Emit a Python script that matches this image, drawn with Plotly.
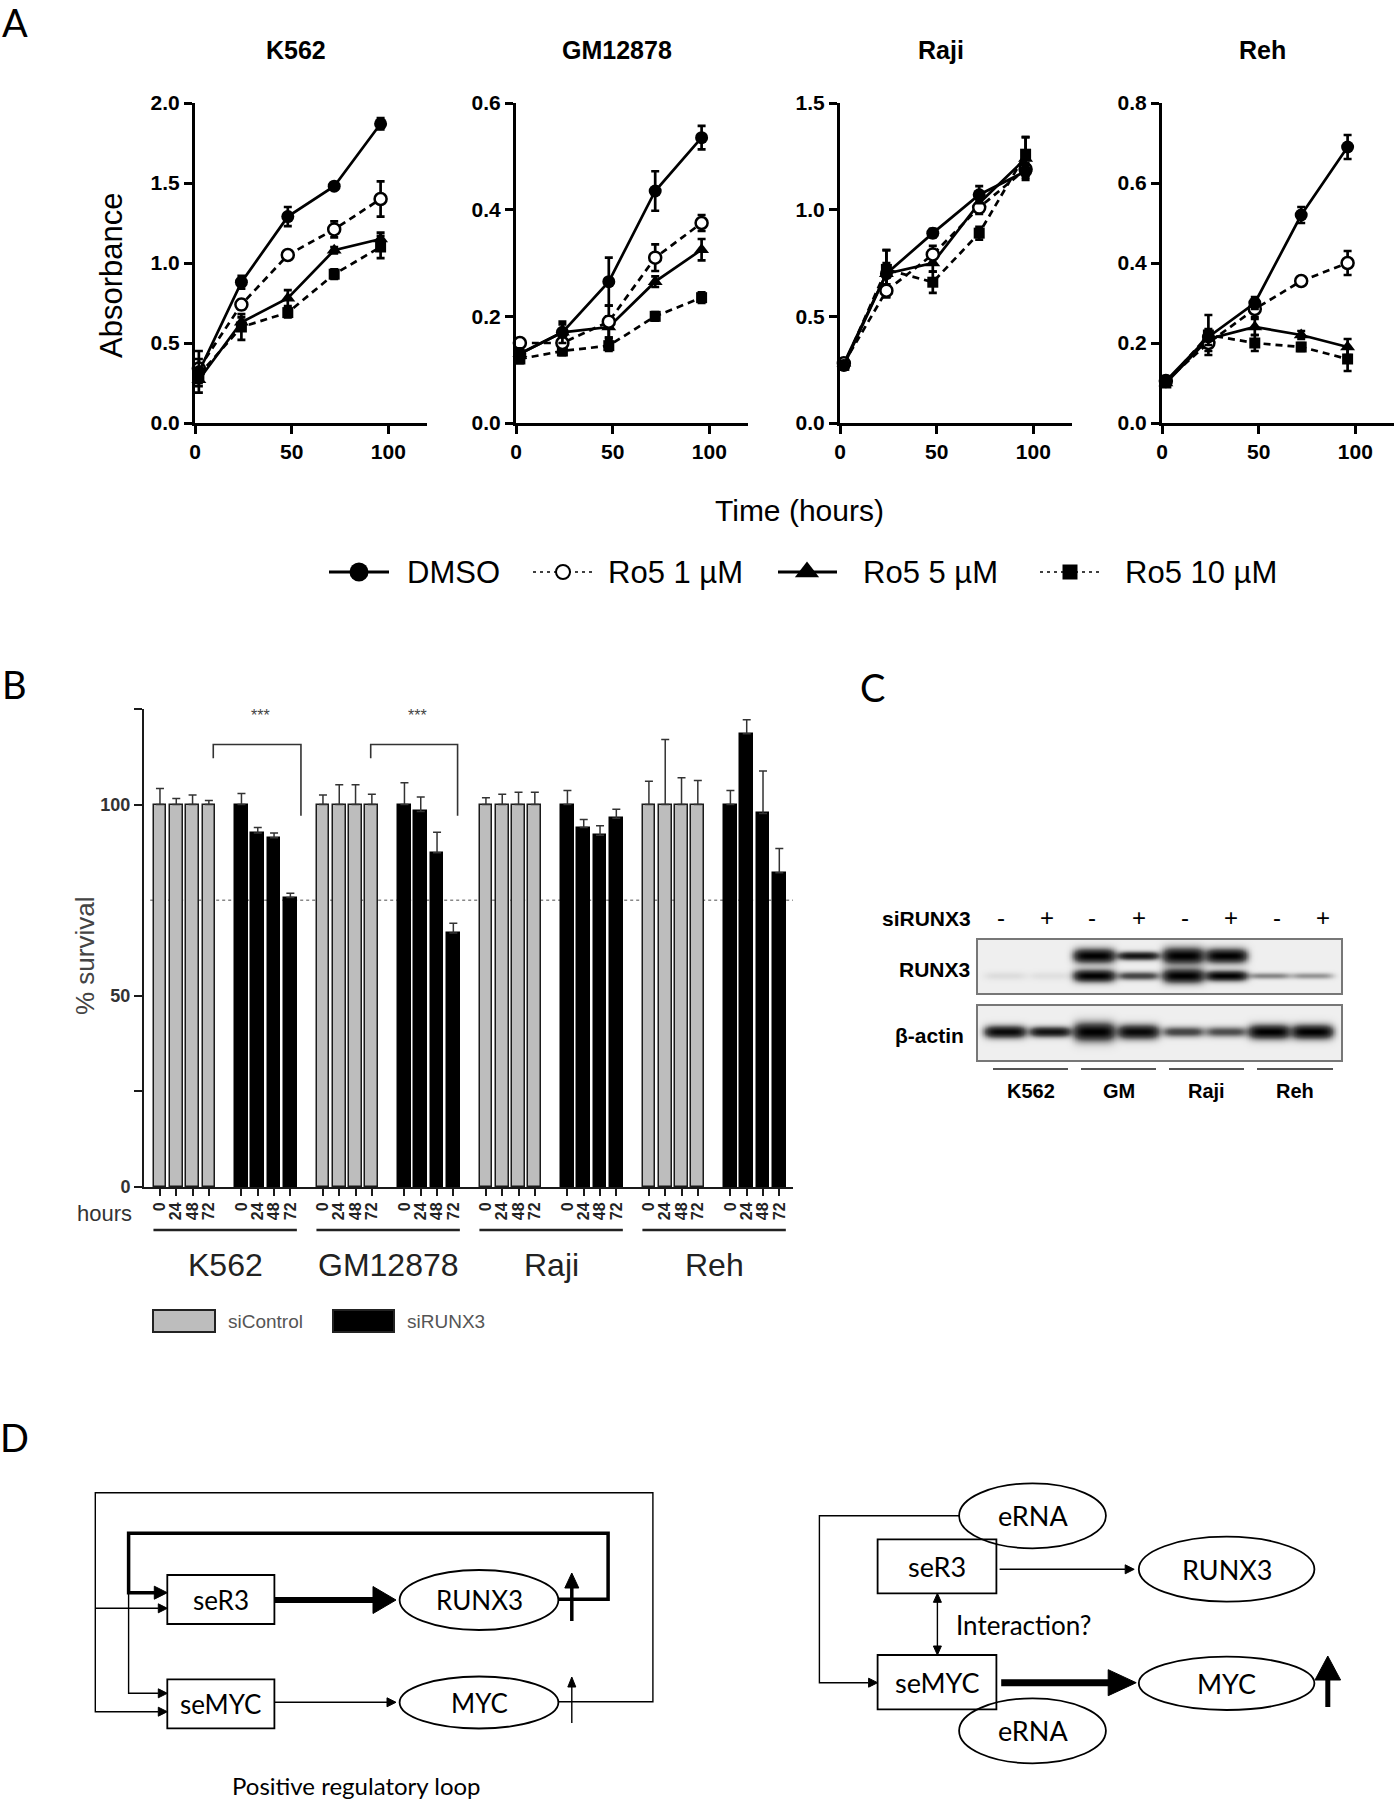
import numpy as np
import plotly.graph_objects as go

W, H = 1397, 1800
FONT = "Liberation Sans"
DFONT = "Lato"

# ================= Panel A data =================
time_h = [2, 24, 48, 72, 96]
a_lines = ["K562", "GM12878", "Raji", "Reh"]
a_treatments = ["DMSO", "Ro5 1 µM", "Ro5 5 µM", "Ro5 10 µM"]
a_ymax = [2.0, 0.6, 1.5, 0.8]
a_yticks = [[0, 0.5, 1.0, 1.5, 2.0], [0, 0.2, 0.4, 0.6], [0, 0.5, 1.0, 1.5], [0, 0.2, 0.4, 0.6, 0.8]]
a_xticks = [0, 50, 100]

k562_dmso = [0.32, 0.88, 1.29, 1.48, 1.87]
k562_dmso_err = [0.13, 0.04, 0.06, 0.02, 0.035]
k562_ro1 = [0.34, 0.74, 1.05, 1.21, 1.40]
k562_ro1_err = [0.06, 0.03, 0.02, 0.05, 0.11]
k562_ro5 = [0.27, 0.63, 0.78, 1.08, 1.15]
k562_ro5_err = [0.04, 0.03, 0.05, 0.02, 0.04]
k562_ro10 = [0.30, 0.60, 0.69, 0.93, 1.10]
k562_ro10_err = [0.05, 0.08, 0.03, 0.03, 0.07]

gm_dmso = [0.13, 0.17, 0.265, 0.435, 0.535]
gm_dmso_err = [0.01, 0.02, 0.045, 0.037, 0.022]
gm_ro1 = [0.15, 0.15, 0.19, 0.31, 0.375]
gm_ro1_err = [0.008, 0.01, 0.03, 0.025, 0.015]
gm_ro5 = [0.13, 0.17, 0.18, 0.265, 0.325]
gm_ro5_err = [0.008, 0.015, 0.02, 0.01, 0.02]
gm_ro10 = [0.12, 0.135, 0.145, 0.20, 0.235]
gm_ro10_err = [0.008, 0.008, 0.01, 0.008, 0.01]

raji_dmso = [0.27, 0.70, 0.89, 1.07, 1.18]
raji_dmso_err = [0.02, 0.05, 0.02, 0.04, 0.03]
raji_ro1 = [0.28, 0.62, 0.79, 1.01, 1.19]
raji_ro1_err = [0.02, 0.03, 0.04, 0.03, 0.03]
raji_ro5 = [0.28, 0.70, 0.75, 1.03, 1.24]
raji_ro5_err = [0.02, 0.11, 0.04, 0.03, 0.10]
raji_ro10 = [0.27, 0.72, 0.66, 0.89, 1.26]
raji_ro10_err = [0.02, 0.09, 0.05, 0.03, 0.08]

reh_dmso = [0.105, 0.215, 0.30, 0.52, 0.69]
reh_dmso_err = [0.008, 0.02, 0.015, 0.02, 0.03]
reh_ro1 = [0.105, 0.20, 0.285, 0.355, 0.40]
reh_ro1_err = [0.008, 0.02, 0.02, 0.01, 0.03]
reh_ro5 = [0.10, 0.21, 0.24, 0.22, 0.19]
reh_ro5_err = [0.008, 0.02, 0.02, 0.01, 0.02]
reh_ro10 = [0.10, 0.22, 0.20, 0.19, 0.16]
reh_ro10_err = [0.008, 0.05, 0.02, 0.01, 0.03]

# ================= Panel B data =================
b_lines = ["K562", "GM12878", "Raji", "Reh"]
b_hours = ["0", "24", "48", "72"]
sictrl_k562 = [100, 100, 100, 100]
sictrl_k562_err = [4.2, 1.6, 2.5, 1.1]
sictrl_gm = [100, 100, 100, 100]
sictrl_gm_err = [2.5, 5.2, 5.2, 2.7]
sictrl_raji = [100, 100, 100, 100]
sictrl_raji_err = [1.8, 2.7, 3.2, 3.2]
sictrl_reh = [100, 100, 100, 100]
sictrl_reh_err = [6.1, 17.0, 7.0, 6.3]
sirunx3_k562 = [100, 92.6, 91.3, 75.7]
sirunx3_k562_err = [2.9, 1.4, 1.3, 1.1]
sirunx3_gm = [100, 98.2, 87.4, 66.4]
sirunx3_gm_err = [5.7, 3.8, 5.4, 2.6]
sirunx3_raji = [100, 94.0, 92.0, 96.4]
sirunx3_raji_err = [3.7, 2.1, 2.5, 2.4]
sirunx3_reh = [100, 118.5, 97.7, 82.2]
sirunx3_reh_err = [3.7, 3.7, 11.1, 6.3]
b_threshold = 75
b_yticks = [0, 25, 50, 100, 125]
b_yticktext = ["0", "", "50", "100", ""]

# ================= Panel C data (band intensities read from blot) =================
c_groups = ["K562", "GM", "Raji", "Reh"]
c_signs = ["-", "+", "-", "+", "-", "+", "-", "+"]
runx3_upper = [0.0, 0.0, 1.0, 0.9, 1.0, 1.0, 0.0, 0.0]
runx3_upper_thick = [5, 5, 7, 4, 8, 7, 4, 4]
runx3_lower = [0.06, 0.05, 1.0, 0.6, 1.0, 1.0, 0.35, 0.3]
runx3_lower_thick = [4, 4, 6, 4, 7, 5, 3, 3]
actin = [0.95, 0.9, 1.0, 0.95, 0.6, 0.55, 1.0, 1.0]
actin_thick = [6, 5, 9, 7, 5, 5, 7, 7]

# ================= layout geometry (pixels) =================
A_X = [(195, 427), (516, 748), (840, 1072), (1162, 1394)]
A_Y = (103, 423)
A_XMAX = 120
B_X = (144, 793)
B_Y = (709, 1187)
B_XR = (-0.98, 38.84)
lane_x = [1005, 1050, 1094, 1138, 1183, 1226, 1269, 1312]
sign_x = [1001, 1047, 1092, 1139, 1185, 1231, 1277, 1323]


def xdom(a, b):
    return [a / W, b / W]


def ydom(a, b):
    return [1 - b / H, 1 - a / H]


fig = go.Figure()
annotations = []
shapes = []


def text(x, y, s, size, family=FONT, bold=False, color="black", xanchor="center", angle=0,
         xref="x", yref="y"):
    annotations.append(dict(x=x, y=y, xref=xref, yref=yref, text=s, showarrow=False,
                            xanchor=xanchor, yanchor="middle", textangle=angle,
                            font=dict(family=family, size=size, color=color,
                                      weight="bold" if bold else "normal")))


# ---------------- Panel A ----------------
a_data = [
    [(k562_dmso, k562_dmso_err), (k562_ro1, k562_ro1_err), (k562_ro5, k562_ro5_err), (k562_ro10, k562_ro10_err)],
    [(gm_dmso, gm_dmso_err), (gm_ro1, gm_ro1_err), (gm_ro5, gm_ro5_err), (gm_ro10, gm_ro10_err)],
    [(raji_dmso, raji_dmso_err), (raji_ro1, raji_ro1_err), (raji_ro5, raji_ro5_err), (raji_ro10, raji_ro10_err)],
    [(reh_dmso, reh_dmso_err), (reh_ro1, reh_ro1_err), (reh_ro5, reh_ro5_err), (reh_ro10, reh_ro10_err)],
]
styles = [
    dict(symbol="circle", fill="black", dash="solid", size=13),
    dict(symbol="circle", fill="white", dash="dash", size=12),
    dict(symbol="triangle-up", fill="black", dash="solid", size=13),
    dict(symbol="square", fill="black", dash="dash", size=11),
]
draw_order = [3, 2, 1, 0]

for p in range(4):
    ax = str(p + 2)
    for t in draw_order:
        vals, err = a_data[p][t]
        st = styles[t]
        fig.add_trace(go.Scatter(
            x=time_h, y=vals, xaxis="x" + ax, yaxis="y" + ax, mode="lines+markers",
            name=a_treatments[t], showlegend=False, cliponaxis=False,
            line=dict(color="black", width=2.7, dash="7px,5px" if st["dash"] == "dash" else "solid"),
            marker=dict(symbol=st["symbol"], size=st["size"], color=st["fill"],
                        line=dict(color="black", width=2.5 if st["fill"] == "white" else 0)),
            error_y=dict(type="data", array=err, visible=True, color="black", thickness=2.7, width=4),
        ))
    x0, x1 = A_X[p]
    fig.update_layout(**{
        "xaxis" + ax: dict(domain=xdom(x0, x1), range=[0, A_XMAX], anchor="y" + ax, automargin=False,
                           showline=True, linecolor="black", linewidth=3, ticks="outside",
                           ticklen=8, tickwidth=3, tickcolor="black", tickvals=a_xticks,
                           showgrid=False, zeroline=False, fixedrange=True,
                           tickfont=dict(family=FONT, size=21, color="black", weight="bold")),
        "yaxis" + ax: dict(domain=ydom(*A_Y), range=[0, a_ymax[p]], anchor="x" + ax, automargin=False,
                           showline=True, linecolor="black", linewidth=3, ticks="outside",
                           ticklen=8, tickwidth=3, tickcolor="black", tickvals=a_yticks[p],
                           tickformat=".1f", showgrid=False, zeroline=False, fixedrange=True,
                           tickfont=dict(family=FONT, size=21, color="black", weight="bold")),
    })
    text(x0 + 52 / A_XMAX * (x1 - x0), 50, a_lines[p], 25, bold=True)

text(15, 22, "A", 38, family=DFONT)
text(111, 276, "Absorbance", 31, angle=-90)
text(799, 510, "Time (hours)", 30)

# legend for panel A (drawn on canvas)
leg_line = [(329, 389), (533, 593), (778, 837), (1040, 1100)]
leg_mark = [359, 563, 807, 1070]
leg_text = [405, 606, 861, 1123]
leg_size = [19, 14, 21, 15]
LEG_Y = 572
for t in range(4):
    st = styles[t]
    dashed = st["dash"] == "dash"
    fig.add_trace(go.Scatter(x=list(leg_line[t]), y=[LEG_Y, LEG_Y], mode="lines", showlegend=False,
                             hoverinfo="skip", xaxis="x", yaxis="y",
                             line=dict(color="black", width=1.5 if dashed else 3,
                                       dash="3px,4px" if dashed else "solid")))
    fig.add_trace(go.Scatter(x=[leg_mark[t]], y=[LEG_Y], mode="markers", showlegend=False,
                             hoverinfo="skip", xaxis="x", yaxis="y",
                             marker=dict(symbol=st["symbol"], size=leg_size[t], color=st["fill"],
                                         line=dict(color="black", width=2 if st["fill"] == "white" else 0))))
    text(leg_text[t], LEG_Y, a_treatments[t], 31, xanchor="left")

# ---------------- Panel B ----------------
ctrl_vals = [sictrl_k562, sictrl_gm, sictrl_raji, sictrl_reh]
ctrl_errs = [sictrl_k562_err, sictrl_gm_err, sictrl_raji_err, sictrl_reh_err]
si_vals = [sirunx3_k562, sirunx3_gm, sirunx3_raji, sirunx3_reh]
si_errs = [sirunx3_k562_err, sirunx3_gm_err, sirunx3_raji_err, sirunx3_reh_err]

ctrl_x, si_x, cy, ce, sy, se = [], [], [], [], [], []
for c in range(4):
    for i in range(4):
        ctrl_x.append(10 * c + i)
        si_x.append(10 * c + 5 + i)
    cy += ctrl_vals[c]
    ce += ctrl_errs[c]
    sy += si_vals[c]
    se += si_errs[c]

fig.add_trace(go.Bar(x=ctrl_x, y=cy, width=0.78, xaxis="x6", yaxis="y6", name="siControl",
                     showlegend=False, marker=dict(color="#bdbdbd", line=dict(color="#1a1a1a", width=1.5)),
                     error_y=dict(type="data", symmetric=False, array=ce, arrayminus=[0] * len(ce),
                                  color="#333333", thickness=1.5, width=4)))
fig.add_trace(go.Bar(x=si_x, y=sy, width=0.78, xaxis="x6", yaxis="y6", name="siRUNX3",
                     showlegend=False, marker=dict(color="black", line=dict(color="black", width=1.5)),
                     error_y=dict(type="data", symmetric=False, array=se, arrayminus=[0] * len(se),
                                  color="#333333", thickness=1.5, width=4)))

all_x = sorted(ctrl_x + si_x)
fig.update_layout(
    xaxis6=dict(domain=xdom(*B_X), range=list(B_XR), anchor="y6", showline=True, linecolor="#1a1a1a",
                linewidth=2, ticks="outside", ticklen=7, tickwidth=1.5, tickcolor="#1a1a1a",
                tickvals=all_x, ticktext=b_hours * 8, tickangle=-90, showgrid=False, zeroline=False,
                fixedrange=True, automargin=False,
                tickfont=dict(family=FONT, size=16, color="#222", weight="bold")),
    yaxis6=dict(domain=ydom(*B_Y), range=[0, 125], anchor="x6", showline=True, linecolor="#1a1a1a",
                linewidth=2, ticks="outside", ticklen=8, tickwidth=2, tickcolor="#1a1a1a",
                tickvals=b_yticks, ticktext=b_yticktext, showgrid=False, zeroline=False,
                fixedrange=True, automargin=False,
                tickfont=dict(family=FONT, size=18, color="#333", weight="bold")),
    bargap=0,
)

shapes.append(dict(type="line", xref="x6", yref="y6", x0=-0.6, x1=B_XR[1], y0=b_threshold, y1=b_threshold,
                   line=dict(color="#888888", width=1.5, dash="dot"), layer="below"))
for (l, r) in [(3.27, 8.65), (12.93, 18.26)]:
    shapes.append(dict(type="path", xref="x6", yref="y6",
                       path=f"M {l},112.1 L {l},115.7 L {r},115.7 L {r},97.1",
                       line=dict(color="#333333", width=1.6)))
    text((l + r) / 2 + 0.2, 123.4, "***", 16, color="#444", xref="x6", yref="y6")

text(14, 684, "B", 38, family=DFONT)
text(85, 956, "% survival", 26, color="#444", angle=-90)
text(134, 1213, "hours", 22, color="#333", xanchor="right")
for c in range(4):
    shapes.append(dict(type="line", xref="x6", yref="y", x0=10 * c - 0.4, x1=10 * c + 8.4,
                       y0=1230, y1=1230, line=dict(color="#222", width=2.5)))
    text(10 * c + 4, 1265, b_lines[c], 32, color="#222", xref="x6")

shapes.append(dict(type="rect", xref="x", yref="y", x0=153, x1=215, y0=1310, y1=1332,
                   fillcolor="#bdbdbd", line=dict(color="#222", width=2)))
text(226, 1321, "siControl", 19, color="#555", xanchor="left")
shapes.append(dict(type="rect", xref="x", yref="y", x0=333, x1=394, y0=1310, y1=1332,
                   fillcolor="black", line=dict(color="#222", width=2)))
text(405, 1321, "siRUNX3", 19, color="#555", xanchor="left")

# ---------------- Panel C (western blot) ----------------
text(872, 687, "C", 38, family=DFONT)
text(973, 918, "siRUNX3", 21, bold=True, xanchor="right")
for i in range(8):
    text(sign_x[i], 917, c_signs[i], 24)
text(972, 969, "RUNX3", 21, bold=True, xanchor="right")
text(966, 1035, "β-actin", 21, bold=True, xanchor="right")


def blot(y0, y1, bands):
    xs = np.arange(978, 1342, 1.5)
    ys = np.arange(y0, y1 + 0.5, 1.0)
    X, Y = np.meshgrid(xs, ys)
    keep = np.ones_like(X)
    for (cy_, ints, thick) in bands:
        for i in range(8):
            if ints[i] <= 0:
                continue
            v = ints[i] * np.exp(-np.abs((X - lane_x[i]) / 21.0) ** 5) * np.exp(-((Y - cy_) / thick[i]) ** 2)
            keep *= (1 - np.clip(v, 0, 1))
    z = 1 - keep
    fig.add_trace(go.Heatmap(x=xs, y=ys, z=z, xaxis="x", yaxis="y", zmin=0, zmax=1, showscale=False,
                             hoverinfo="skip", zsmooth="best",
                             colorscale=[[0, "#efefef"], [0.5, "#555555"], [1, "#000000"]]))
    shapes.append(dict(type="rect", xref="x", yref="y", x0=977, x1=1342, y0=y0, y1=y1,
                       line=dict(color="#777777", width=2)))


blot(939, 994, [(955, runx3_upper, runx3_upper_thick), (975, runx3_lower, runx3_lower_thick)])
blot(1005, 1061, [(1031, actin, actin_thick)])

c_lines = [(993, 1068), (1081, 1156), (1169, 1244), (1257, 1333)]
for g in range(4):
    a, b = c_lines[g]
    shapes.append(dict(type="line", xref="x", yref="y", x0=a, x1=b, y0=1069, y1=1069,
                       line=dict(color="#555555", width=2)))
    text((a + b) / 2, 1091, c_groups[g], 20, bold=True)

# ---------------- Panel D (diagrams) ----------------
text(14, 1437, "D", 38, family=DFONT)


def seg(pts, w=1.4):
    d = "M " + " L ".join(f"{x},{y}" for x, y in pts)
    shapes.append(dict(type="path", path=d, xref="x", yref="y", line=dict(color="black", width=w)))


def tri(tip, direction, length, half):
    x, y = tip
    dx, dy = direction
    bx, by = x - dx * length, y - dy * length
    px, py = -dy, dx
    d = f"M {x},{y} L {bx + px * half},{by + py * half} L {bx - px * half},{by - py * half} Z"
    shapes.append(dict(type="path", path=d, xref="x", yref="y", fillcolor="black",
                       line=dict(color="black", width=1)))


def box(x0, y0, x1, y1):
    shapes.append(dict(type="rect", xref="x", yref="y", x0=x0, x1=x1, y0=y0, y1=y1,
                       line=dict(color="black", width=1.8)))


def ell(cx, cy_, rx, ry):
    shapes.append(dict(type="circle", xref="x", yref="y", x0=cx - rx, x1=cx + rx, y0=cy_ - ry,
                       y1=cy_ + ry, line=dict(color="black", width=1.8)))


# left diagram
box(167.3, 1575, 274.4, 1624)
box(167.3, 1679.3, 274.4, 1728.3)
ell(479, 1600, 79.4, 30)
ell(479, 1702.5, 79.4, 26)
seg([(558.4, 1701.7), (652.9, 1701.7), (652.9, 1492.7), (95.3, 1492.7), (95.3, 1711.7), (158, 1711.7)])
tri((167.3, 1711.7), (1, 0), 9, 4.5)
seg([(95.3, 1608.3), (158, 1608.3)])
tri((167.3, 1608.3), (1, 0), 9, 4.5)
seg([(558.4, 1599.3), (608.1, 1599.3), (608.1, 1533.3), (128.6, 1533.3), (128.6, 1592.7), (155, 1592.7)], w=3.5)
tri((167.3, 1592.7), (1, 0), 13, 6.5)
seg([(128.6, 1592.7), (128.6, 1693.3), (158, 1693.3)])
tri((167.3, 1693.3), (1, 0), 9, 4.5)
seg([(274.4, 1600), (374, 1600)], w=6)
tri((396, 1600), (1, 0), 23, 13.5)
seg([(274.4, 1702.3), (387, 1702.3)])
tri((396, 1702.3), (1, 0), 9, 4.5)
seg([(571.8, 1621), (571.8, 1586)], w=3.5)
tri((571.8, 1573), (0, -1), 15, 7)
seg([(571.8, 1723), (571.8, 1686)])
tri((571.8, 1677), (0, -1), 10, 4)
text(220.8, 1599.5, "seR3", 26, family=DFONT)
text(220.8, 1703.8, "seMYC", 26, family=DFONT)
text(479, 1600, "RUNX3", 26, family=DFONT)
text(479, 1702.5, "MYC", 26, family=DFONT)
text(356, 1785, "Positive regulatory loop", 24, family=DFONT)

# right diagram
ell(1032.5, 1515.8, 73.4, 32.5)
box(877.6, 1539.3, 996.4, 1593.3)
ell(1226.6, 1569.2, 87.8, 32.5)
seg([(999.6, 1569.3), (1125, 1569.3)])
tri((1134.2, 1569.3), (1, 0), 9, 4.5)
seg([(959.1, 1515.8), (819.4, 1515.8), (819.4, 1682.7), (868, 1682.7)])
tri((877.6, 1682.7), (1, 0), 9, 4.5)
seg([(937.4, 1602), (937.4, 1646)])
tri((937.4, 1593.3), (0, -1), 9, 4)
tri((937.4, 1655), (0, 1), 9, 4)
box(877.6, 1655, 996.4, 1709.3)
ell(1226.6, 1683.3, 87.8, 26.7)
ell(1032.5, 1730.8, 73.4, 32.5)
seg([(1001.2, 1682.7), (1110, 1682.7)], w=7)
tri((1136.2, 1682.7), (1, 0), 28, 13)
seg([(1327.8, 1707), (1327.8, 1678)], w=5)
tri((1327.8, 1656), (0, -1), 24, 12.8)
text(1032.5, 1515.8, "eRNA", 27, family=DFONT)
text(937, 1566.3, "seR3", 27, family=DFONT)
text(1226.6, 1569.2, "RUNX3", 27, family=DFONT)
text(954.3, 1625, "Interaction?", 26, family=DFONT, xanchor="left")
text(937, 1682.2, "seMYC", 27, family=DFONT)
text(1226.6, 1683.3, "MYC", 27, family=DFONT)
text(1032.5, 1730.8, "eRNA", 27, family=DFONT)

fig.update_layout(
    template="none",
    width=W, height=H, margin=dict(l=0, r=0, t=0, b=0, pad=0, autoexpand=False),
    paper_bgcolor="white", plot_bgcolor="rgba(0,0,0,0)",
    xaxis=dict(domain=[0, 1], range=[0, W], visible=False, fixedrange=True, automargin=False),
    yaxis=dict(domain=[0, 1], range=[H, 0], visible=False, fixedrange=True, automargin=False),
    annotations=annotations, shapes=shapes, showlegend=False,
    font=dict(family=FONT, color="black"),
)

fig.write_html("out.html", config={"displayModeBar": False, "responsive": False},
               post_script="document.body.style.margin='0px';")
